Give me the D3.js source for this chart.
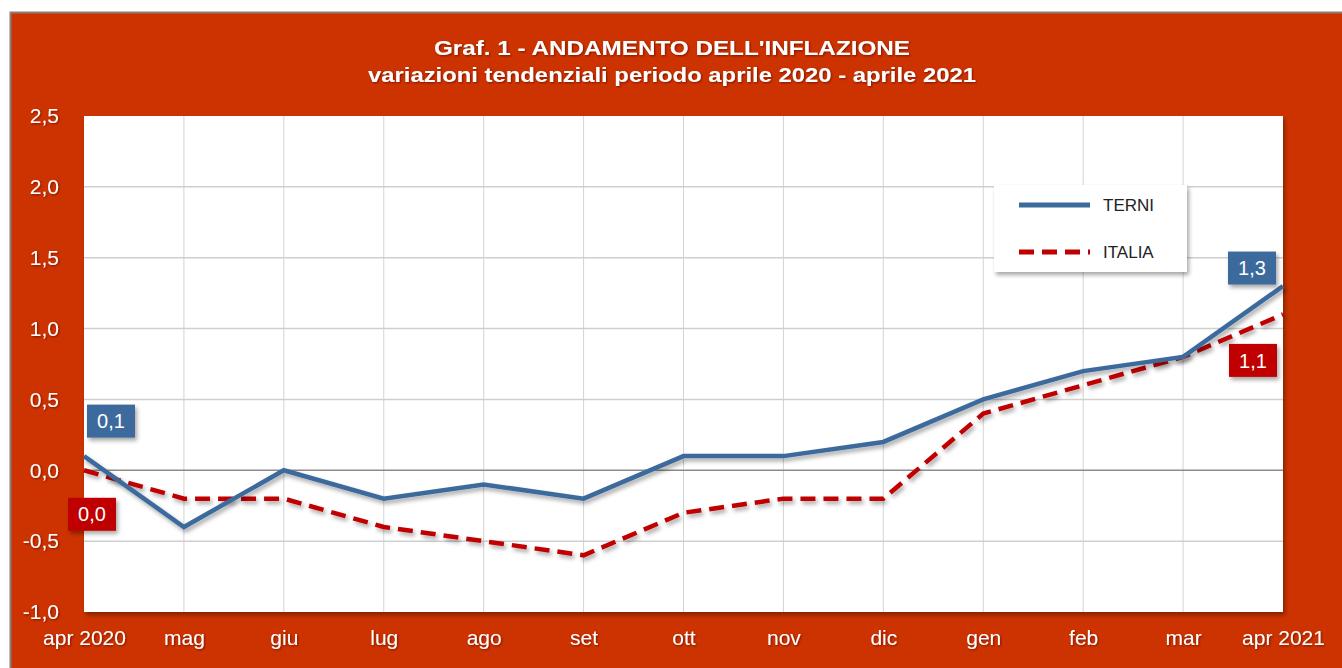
<!DOCTYPE html>
<html><head><meta charset="utf-8">
<script src="https://cdn.jsdelivr.net/npm/d3@7"></script>
<style>body{margin:0;background:#fff;} svg{display:block;}</style>
</head><body>
<svg id="c" width="1342" height="668"></svg>
<script>
const categories = ["apr 2020","mag","giu","lug","ago","set","ott","nov","dic","gen","feb","mar","apr 2021"];
const terni = [0.1,-0.4,0.0,-0.2,-0.1,-0.2,0.1,0.1,0.2,0.5,0.7,0.8,1.3];
const italia = [0.0,-0.2,-0.2,-0.4,-0.5,-0.6,-0.3,-0.2,-0.2,0.4,0.6,0.8,1.1];
const yTicks = [-1.0,-0.5,0.0,0.5,1.0,1.5,2.0,2.5];
const titleLines = ["Graf. 1 - ANDAMENTO DELL'INFLAZIONE","variazioni tendenziali periodo aprile 2020 - aprile 2021"];
const titleWidths = [476, 608];
const seriesNames = ["TERNI","ITALIA"];

const svg = d3.select("#c");
const fontW = "'Liberation Sans',Arial,sans-serif";
const defs = svg.append("defs");
const f = defs.append("filter").attr("id","sh").attr("x","-20%").attr("y","-20%").attr("width","140%").attr("height","160%");
f.append("feDropShadow").attr("dx",2).attr("dy",3).attr("stdDeviation",2).attr("flood-color","#000").attr("flood-opacity",0.35);
const ft = defs.append("filter").attr("id","tsh");
ft.append("feDropShadow").attr("dx",1).attr("dy",1).attr("stdDeviation",0.8).attr("flood-color","#600").attr("flood-opacity",0.7);

// frame
svg.append("rect").attr("x",10.5).attr("y",12.5).attr("width",1340).attr("height",660)
  .attr("fill","#CC3300").attr("stroke","#8a7f78").attr("stroke-width",2);

const m = {l:84, r:1283, t:116, b:612};
const x = d3.scalePoint().domain(categories).range([m.l, m.r]);
const y = d3.scaleLinear().domain([-1,2.5]).range([m.b, m.t]);

// plot area
svg.append("rect").attr("x",m.l).attr("y",m.t).attr("width",m.r-m.l).attr("height",m.b-m.t)
  .attr("fill","#fff").attr("filter","url(#sh)");

// grid
svg.append("g").selectAll("line").data(categories.slice(1,-1)).join("line")
  .attr("x1",d=>x(d)).attr("x2",d=>x(d)).attr("y1",m.t).attr("y2",m.b)
  .attr("stroke","#d4d4d4").attr("stroke-width",1);
svg.append("g").selectAll("line").data(yTicks.filter(v=>v!==0 && v>-1 && v<2.5)).join("line")
  .attr("x1",m.l).attr("x2",m.r).attr("y1",d=>y(d)).attr("y2",d=>y(d))
  .attr("stroke","#cfcfcf").attr("stroke-width",1.5);
svg.append("line").attr("x1",m.l).attr("x2",m.r).attr("y1",y(0)).attr("y2",y(0))
  .attr("stroke","#8c8c8c").attr("stroke-width",1.5);

// axes
const yAxis = d3.axisLeft(y).tickValues(yTicks).tickSize(0).tickPadding(0)
  .tickFormat(d=>d3.format(".1f")(d).replace(".",",").replace("−","-"));
const ga = svg.append("g").attr("transform",`translate(${m.l-25},0)`).call(yAxis);
ga.select(".domain").remove();
ga.selectAll("text").attr("fill","#fff").attr("font-family",fontW).attr("font-size",21)
  .attr("filter","url(#tsh)").attr("dy","0.32em");

const xAxis = d3.axisBottom(x).tickSize(0).tickPadding(0);
const gx = svg.append("g").attr("transform",`translate(0,${m.b+18})`).call(xAxis);
gx.select(".domain").remove();
gx.selectAll("text").attr("fill","#fff").attr("font-family",fontW).attr("font-size",21)
  .attr("filter","url(#tsh)").attr("dy","0.71em");

// lines
const line = d3.line().x((d,i)=>x(categories[i])).y(d=>y(d));
svg.append("path").datum(italia).attr("d",line).attr("fill","none")
  .attr("stroke","#C00000").attr("stroke-width",4.5).attr("stroke-dasharray","15,8").attr("filter","url(#sh)");
svg.append("path").datum(terni).attr("d",line).attr("fill","none")
  .attr("stroke","#3D6A9C").attr("stroke-width",4.5).attr("stroke-linejoin","miter").attr("filter","url(#sh)");

// value labels
function label(cx, cy, text, fill){
  const g = svg.append("g");
  g.append("rect").attr("x",cx-24).attr("y",cy-16.5).attr("width",48).attr("height",33)
    .attr("fill",fill).attr("filter","url(#sh)");
  g.append("text").attr("x",cx).attr("y",cy).attr("dy","0.36em").attr("text-anchor","middle")
    .attr("fill","#fff").attr("font-family",fontW).attr("font-size",20).text(text);
}
const fmt = v=>d3.format(".1f")(v).replace(".",",");
label(x(categories[0])+27, y(terni[0])-35, fmt(terni[0]), "#3D6A9C");
label(x(categories[0])+8, y(italia[0])+44, fmt(italia[0]), "#C00000");
label(x(categories[12])-31, y(terni[12])-18, fmt(terni[12]), "#3D6A9C");
label(x(categories[12])-30, y(italia[12])+46, fmt(italia[12]), "#C00000");

// legend
const lg = svg.append("g").attr("transform","translate(994,185)");
lg.append("rect").attr("width",193).attr("height",87).attr("fill","#fff").attr("filter","url(#sh)");
lg.append("line").attr("x1",25).attr("x2",96).attr("y1",20).attr("y2",20).attr("stroke","#3D6A9C").attr("stroke-width",5);
lg.append("line").attr("x1",25).attr("x2",96).attr("y1",67).attr("y2",67).attr("stroke","#C00000").attr("stroke-width",5).attr("stroke-dasharray","15,8");
lg.selectAll("text.lt").data(seriesNames).join("text").attr("class","lt")
  .attr("x",109).attr("y",(d,i)=>20+i*47).attr("dy","0.36em")
  .attr("font-family",fontW).attr("font-size",17).attr("fill","#222").text(d=>d);

// title
svg.append("g").selectAll("text").data(titleLines).join("text")
  .attr("x",(d,i)=>672-titleWidths[i]/2).attr("y",(d,i)=>48+i*27).attr("dy","0.36em")
  .attr("textLength",(d,i)=>titleWidths[i]).attr("lengthAdjust","spacingAndGlyphs")
  .attr("fill","#fff").attr("font-family",fontW).attr("font-weight","bold").attr("font-size",20)
  .attr("filter","url(#tsh)").text(d=>d);
</script>
</body></html>
